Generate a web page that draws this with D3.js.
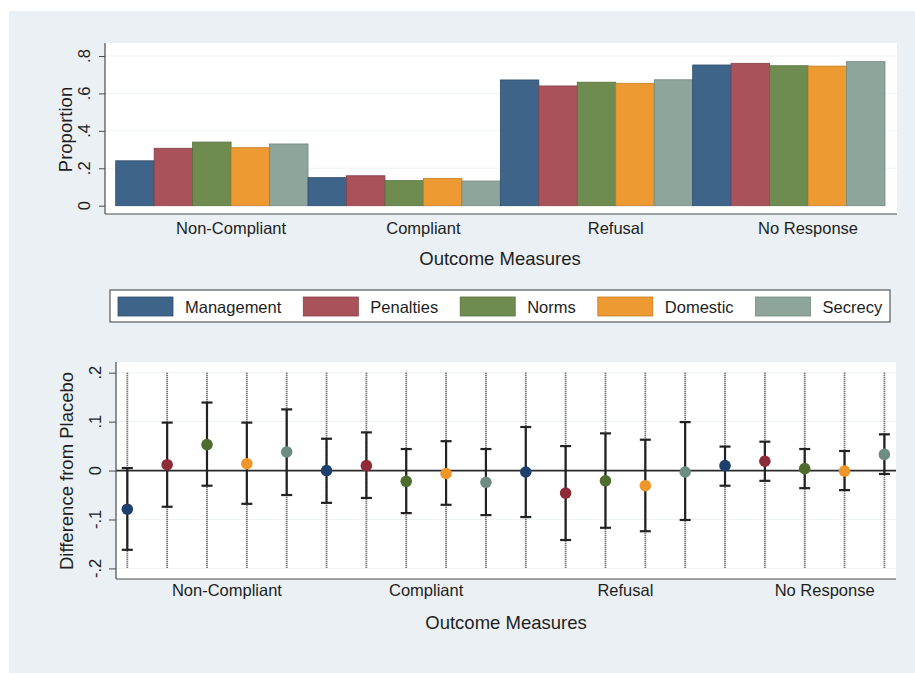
<!DOCTYPE html>
<html>
<head>
<meta charset="utf-8">
<script src="https://cdn.jsdelivr.net/npm/d3@7"></script>
<style>
  html, body { margin: 0; padding: 0; background: #ffffff; }
  svg text { font-family: "Liberation Sans", Arial, Helvetica, sans-serif; fill: #1e1e1e; }
</style>
</head>
<body>
<svg id="chart" width="915" height="673"></svg>
<script>
// Outcome categories and treatment arms
const categories = ["Non-Compliant", "Compliant", "Refusal", "No Response"];
const treatments = ["Management", "Penalties", "Norms", "Domestic", "Secrecy"];

// Proportion of each outcome, per treatment (ordered as categories)
const propManagement = [0.240, 0.150, 0.672, 0.752];
const propPenalties  = [0.307, 0.160, 0.640, 0.761];
const propNorms      = [0.340, 0.134, 0.660, 0.748];
const propDomestic   = [0.310, 0.146, 0.654, 0.746];
const propSecrecy    = [0.330, 0.132, 0.673, 0.770];

// Difference from placebo: point estimate and 95% interval bounds
const diffManagement = [-0.079,  0.000, -0.003,  0.010];
const loManagement   = [-0.162, -0.066, -0.095, -0.031];
const hiManagement   = [ 0.005,  0.065,  0.089,  0.049];

const diffPenalties  = [ 0.012,  0.010, -0.046,  0.019];
const loPenalties    = [-0.074, -0.056, -0.142, -0.021];
const hiPenalties    = [ 0.098,  0.078,  0.050,  0.059];

const diffNorms      = [ 0.053, -0.022, -0.021,  0.004];
const loNorms        = [-0.031, -0.087, -0.117, -0.036];
const hiNorms        = [ 0.139,  0.044,  0.076,  0.044];

const diffDomestic   = [ 0.014, -0.006, -0.031, -0.001];
const loDomestic     = [-0.068, -0.070, -0.124, -0.040];
const hiDomestic     = [ 0.098,  0.060,  0.063,  0.040];

const diffSecrecy    = [ 0.038, -0.024, -0.003,  0.033];
const loSecrecy      = [-0.050, -0.091, -0.101, -0.007];
const hiSecrecy      = [ 0.125,  0.044,  0.099,  0.074];

// Axis tick values and labels
const propTicks = [0, 0.2, 0.4, 0.6, 0.8];
const propTickLabels = ["0", ".2", ".4", ".6", ".8"];
const diffTicks = [-0.2, -0.1, 0, 0.1, 0.2];
const diffTickLabels = ["-.2", "-.1", "0", ".1", ".2"];

const propSeries = [propManagement, propPenalties, propNorms, propDomestic, propSecrecy];
const diffSeries = [diffManagement, diffPenalties, diffNorms, diffDomestic, diffSecrecy];
const loSeries   = [loManagement, loPenalties, loNorms, loDomestic, loSecrecy];
const hiSeries   = [hiManagement, hiPenalties, hiNorms, hiDomestic, hiSecrecy];

const barFill    = ["#3f6489", "#a9525a", "#6e8c4f", "#ee9a33", "#8ea59c"];
const barStroke  = ["#2f4d6c", "#86404a", "#56703c", "#c47d22", "#728a80"];
const dotFill    = ["#1d406d", "#8e2b38", "#4d6c2d", "#ee9628", "#6e8d82"];

// Rows in draw order: category-major, treatment-minor
const bars = [];
const dots = [];
categories.forEach((c, ci) => {
  treatments.forEach((t, ti) => {
    bars.push({ key: c + "|" + t, cat: ci, t: ti, v: propSeries[ti][ci] });
    dots.push({ idx: ci * treatments.length + ti + 1, t: ti,
                est: diffSeries[ti][ci], lo: loSeries[ti][ci], hi: hiSeries[ti][ci] });
  });
});

const svg = d3.select("#chart");
const W = 915, H = 673;

// Graph background
svg.append("rect").attr("x", 9).attr("y", 11).attr("width", W - 9).attr("height", H - 11)
  .attr("fill", "#eaf0f3");

const axisColor = "#4a4a4a";

/* ---------------- Upper panel: proportions ---------------- */
const upper = { left: 105, right: 897, top: 43, bottom: 214 };
svg.append("rect").attr("x", upper.left).attr("y", upper.top)
  .attr("width", upper.right - upper.left).attr("height", upper.bottom - upper.top).attr("fill", "#ffffff");

const xBar = d3.scaleBand().domain(bars.map(d => d.key)).range([115.7, 885]).paddingInner(0).paddingOuter(0);
const yProp = d3.scaleLinear().domain([0, 0.8]).range([205.7, 56]);

// faint gridlines
svg.append("g").selectAll("line").data(propTicks.filter(v => v > 0)).join("line")
  .attr("x1", upper.left).attr("x2", upper.right)
  .attr("y1", d => yProp(d)).attr("y2", d => yProp(d))
  .attr("stroke", "#edf2f5").attr("stroke-width", 1);

svg.append("g").selectAll("rect").data(bars).join("rect")
  .attr("x", d => xBar(d.key)).attr("width", xBar.bandwidth())
  .attr("y", d => yProp(d.v)).attr("height", d => yProp(0) - yProp(d.v))
  .attr("fill", d => barFill[d.t]).attr("stroke", d => barStroke[d.t]).attr("stroke-width", 0.8);

// y axis
const yAxisUpper = d3.axisLeft(yProp).tickValues(propTicks).tickSize(6).tickFormat("");
const gyt = svg.append("g").attr("transform", `translate(${upper.left},0)`).call(yAxisUpper);
gyt.select(".domain").attr("d", `M0,${upper.top}V${upper.bottom}`).attr("stroke", axisColor).attr("stroke-width", 1.2);
gyt.selectAll(".tick line").attr("stroke", axisColor);
svg.append("g").selectAll("text").data(propTicks).join("text")
  .attr("transform", d => `translate(90,${yProp(d)}) rotate(-90)`)
  .attr("text-anchor", "middle").attr("font-size", 16.5)
  .text((d, i) => propTickLabels[i]);

// x axis line
svg.append("line").attr("x1", upper.left).attr("x2", upper.right).attr("y1", upper.bottom).attr("y2", upper.bottom)
  .attr("stroke", axisColor).attr("stroke-width", 1.2);

// category labels sit at the boundary between 3rd and 4th bar of each group
svg.append("g").selectAll("text").data(categories).join("text")
  .attr("x", (c, ci) => xBar(c + "|" + treatments[3]))
  .attr("y", 234).attr("text-anchor", "middle").attr("font-size", 16.5)
  .text(d => d);

svg.append("text").attr("x", 500).attr("y", 265).attr("text-anchor", "middle")
  .attr("font-size", 18.5).text("Outcome Measures");
svg.append("text").attr("transform", `translate(71.5,${(upper.top + upper.bottom) / 2 + 1}) rotate(-90)`)
  .attr("text-anchor", "middle").attr("font-size", 18.5).text("Proportion");

/* ---------------- Legend ---------------- */
// Items flow left to right: swatch, gap, label, then a gap before the next swatch.
const legend = svg.append("g");
legend.append("rect").attr("x", 110).attr("y", 290).attr("width", 780).attr("height", 32)
  .attr("fill", "#ffffff").attr("stroke", "#5a5a5a").attr("stroke-width", 1.2);
const swW = 55, swGap = 12, colGap = 22;
let cursor = 118;
treatments.forEach((t, i) => {
  const item = legend.append("g").attr("transform", `translate(${cursor},0)`);
  item.append("rect").attr("x", 0).attr("y", 297).attr("width", swW).attr("height", 19)
    .attr("fill", barFill[i]).attr("stroke", barStroke[i]).attr("stroke-width", 0.8);
  const txt = item.append("text").attr("x", swW + swGap).attr("y", 312.5).attr("font-size", 16.5).text(t);
  cursor += swW + swGap + txt.node().getComputedTextLength() + colGap;
});

/* ---------------- Lower panel: difference from placebo ---------------- */
const lower = { left: 116, right: 896, top: 362, bottom: 579 };
svg.append("rect").attr("x", lower.left).attr("y", lower.top)
  .attr("width", lower.right - lower.left).attr("height", lower.bottom - lower.top).attr("fill", "#ffffff");

const xPos = d3.scaleLinear().domain([1, 20]).range([127.3, 884.4]);
const yDiff = d3.scaleLinear().domain([-0.2, 0.2]).range([568.4, 372.7]);

svg.append("g").selectAll("line").data(diffTicks.filter(v => v !== 0)).join("line")
  .attr("x1", lower.left).attr("x2", lower.right)
  .attr("y1", d => yDiff(d)).attr("y2", d => yDiff(d))
  .attr("stroke", "#edf2f5").attr("stroke-width", 1);

// dotted guides spanning the full axis range at each estimate
svg.append("g").selectAll("line").data(dots).join("line")
  .attr("x1", d => xPos(d.idx)).attr("x2", d => xPos(d.idx))
  .attr("y1", yDiff(0.2)).attr("y2", yDiff(-0.2))
  .attr("stroke", "#484848").attr("stroke-width", 1.8).attr("stroke-dasharray", "1,1");

// zero reference line
svg.append("line").attr("x1", lower.left).attr("x2", lower.right).attr("y1", yDiff(0)).attr("y2", yDiff(0))
  .attr("stroke", "#2a2a2a").attr("stroke-width", 1.8);

// confidence intervals with caps
const ciG = svg.append("g").attr("stroke", "#222222").attr("stroke-width", 2.2);
ciG.selectAll("line.v").data(dots).join("line").attr("class", "v")
  .attr("x1", d => xPos(d.idx)).attr("x2", d => xPos(d.idx))
  .attr("y1", d => yDiff(d.lo)).attr("y2", d => yDiff(d.hi));
ciG.selectAll("line.cl").data(dots).join("line").attr("class", "cl")
  .attr("x1", d => xPos(d.idx) - 5.5).attr("x2", d => xPos(d.idx) + 5.5)
  .attr("y1", d => yDiff(d.lo)).attr("y2", d => yDiff(d.lo));
ciG.selectAll("line.ch").data(dots).join("line").attr("class", "ch")
  .attr("x1", d => xPos(d.idx) - 5.5).attr("x2", d => xPos(d.idx) + 5.5)
  .attr("y1", d => yDiff(d.hi)).attr("y2", d => yDiff(d.hi));

svg.append("g").selectAll("circle").data(dots).join("circle")
  .attr("cx", d => xPos(d.idx)).attr("cy", d => yDiff(d.est)).attr("r", 5.8)
  .attr("fill", d => dotFill[d.t]);

// axes
const yAxisLower = d3.axisLeft(yDiff).tickValues(diffTicks).tickSize(7).tickFormat("");
const gyb = svg.append("g").attr("transform", `translate(${lower.left},0)`).call(yAxisLower);
gyb.select(".domain").attr("d", `M0,${lower.top}V${lower.bottom}`).attr("stroke", axisColor).attr("stroke-width", 1.2);
gyb.selectAll(".tick line").attr("stroke", axisColor);
svg.append("g").selectAll("text").data(diffTicks).join("text")
  .attr("transform", d => `translate(101,${yDiff(d)}) rotate(-90)`)
  .attr("text-anchor", "middle").attr("font-size", 16.5)
  .text((d, i) => diffTickLabels[i]);

svg.append("line").attr("x1", lower.left).attr("x2", lower.right).attr("y1", lower.bottom).attr("y2", lower.bottom)
  .attr("stroke", axisColor).attr("stroke-width", 1.2);

svg.append("g").selectAll("text").data(categories).join("text")
  .attr("x", (c, i) => xPos(i * treatments.length + 3.5))
  .attr("y", 596).attr("text-anchor", "middle").attr("font-size", 16.5)
  .text(d => d);

svg.append("text").attr("x", 506).attr("y", 628.5).attr("text-anchor", "middle")
  .attr("font-size", 18.5).text("Outcome Measures");
svg.append("text").attr("transform", `translate(73,${471}) rotate(-90)`)
  .attr("text-anchor", "middle").attr("font-size", 18.5).text("Difference from Placebo");
</script>
</body>
</html>
